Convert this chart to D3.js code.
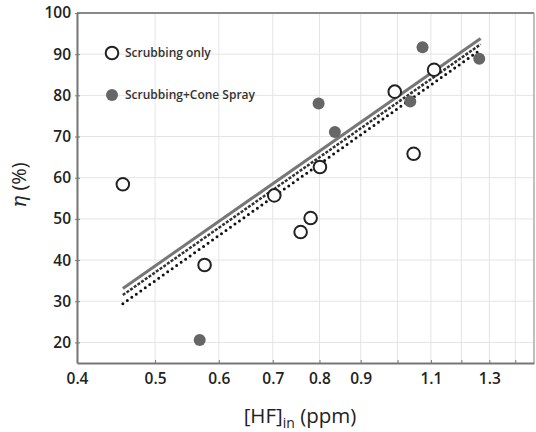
<!DOCTYPE html>
<html><head><meta charset="utf-8">
<script src="https://cdn.jsdelivr.net/npm/d3@7"></script>
<style>body{margin:0;background:#fff}svg{display:block}</style>
</head><body>
<svg id="c" width="536" height="432"></svg>
<script>
const xTicks = [0.4,0.5,0.6,0.7,0.8,0.9,1.0,1.1,1.2,1.3,1.4];
const xTickLabels = ["0.4","0.5","0.6","0.7","0.8","0.9","","1.1","","1.3",""];
const yTicks = [20,30,40,50,60,70,80,90,100];
const scrubX = [0.456,0.576,0.703,0.758,0.780,0.801,0.992,1.047,1.110];
const scrubY = [58.4,38.8,55.7,46.8,50.2,62.6,80.9,65.8,86.2];
const coneX = [0.568,0.798,0.836,1.037,1.074,1.263];
const coneY = [20.6,78.0,71.1,78.5,91.7,88.9];
const lineX = [0.456,1.268];
const fitSolid = [33.1,93.8];
const fitDashDot = [31.5,92.4];
const fitDotted = [29.4,91.1];
const legendLabels = ["Scrubbing only","Scrubbing+Cone Spray"];

const svg = d3.select("#c");
const L=77, R=534, T=13, B=363;
const x = d3.scaleLog().domain([0.4,1.477]).range([L,R]);
const y = d3.scaleLinear().domain([15,100]).range([B,T]);
const font = "'Open Sans', 'DejaVu Sans', sans-serif";

// grid
svg.append("g").selectAll("line").data(xTicks).join("line")
  .attr("x1",d=>x(d)).attr("x2",d=>x(d)).attr("y1",T).attr("y2",B)
  .attr("stroke","#e4e4e4").attr("stroke-width",1);
svg.append("g").selectAll("line").data(yTicks).join("line")
  .attr("x1",L).attr("x2",R).attr("y1",d=>y(d)).attr("y2",d=>y(d))
  .attr("stroke","#e4e4e4").attr("stroke-width",1);

// frame top/right
svg.append("line").attr("x1",L).attr("x2",R).attr("y1",T).attr("y2",T).attr("stroke","#888").attr("stroke-width",2);
svg.append("line").attr("x1",R).attr("x2",R).attr("y1",T).attr("y2",B).attr("stroke","#aaa").attr("stroke-width",1.5);

// axes
const xAxis = d3.axisBottom(x).tickValues(xTicks).tickFormat((d,i)=>xTickLabels[i]).tickSizeInner(-3).tickSizeOuter(0).tickPadding(10);
const gx = svg.append("g").attr("transform",`translate(0,${B})`).call(xAxis);
const yAxis = d3.axisLeft(y).tickValues(yTicks).tickFormat(d3.format("d")).tickSize(3).tickSizeOuter(0).tickPadding(3);
const gy = svg.append("g").attr("transform",`translate(${L},0)`).call(yAxis);
[gx,gy].forEach(g=>{
  g.select(".domain").attr("stroke","#777").attr("stroke-width",2);
  g.selectAll(".tick line").attr("stroke","#777");
  g.selectAll("text").attr("font-family",font).attr("font-size",15.5).attr("font-weight",600).attr("fill","#222");
});
gy.selectAll(".tick line").attr("x2",3).attr("x1",-2);

// fit lines
const lg = d3.line().x(d=>x(d[0])).y(d=>y(d[1]));
svg.append("path").attr("d",lg(lineX.map((v,i)=>[v,fitSolid[i]])))
  .attr("fill","none").attr("stroke","#777").attr("stroke-width",3);
svg.append("path").attr("d",lg(lineX.map((v,i)=>[v,fitDashDot[i]])))
  .attr("fill","none").attr("stroke","#333").attr("stroke-width",2.5).attr("stroke-dasharray","3,1.5");
svg.append("path").attr("d",lg(lineX.map((v,i)=>[v,fitDotted[i]])))
  .attr("fill","none").attr("stroke","#111").attr("stroke-width",3).attr("stroke-linecap","round").attr("stroke-dasharray","0,5.5");

// points
svg.append("g").selectAll("circle").data(coneX.map((v,i)=>[v,coneY[i]])).join("circle")
  .attr("cx",d=>x(d[0])).attr("cy",d=>y(d[1])).attr("r",6).attr("fill","#666");
svg.append("g").selectAll("circle").data(scrubX.map((v,i)=>[v,scrubY[i]])).join("circle")
  .attr("cx",d=>x(d[0])).attr("cy",d=>y(d[1])).attr("r",6.3).attr("fill","#fff").attr("stroke","#222").attr("stroke-width",2);

// legend
const lgd = svg.append("g");
lgd.append("circle").attr("cx",112).attr("cy",53).attr("r",6.3).attr("fill","#fff").attr("stroke","#222").attr("stroke-width",2);
lgd.append("circle").attr("cx",112).attr("cy",95).attr("r",6).attr("fill","#666");
lgd.selectAll("text").data(legendLabels).join("text")
  .attr("x",125).attr("y",(d,i)=>[57,99][i]).text(d=>d)
  .attr("font-family",font).attr("font-size",12).attr("font-weight",600).attr("fill","#333");

// axis labels
const yl = svg.append("text").attr("transform","translate(26,185) rotate(-90)").attr("text-anchor","middle")
  .attr("font-family",font).attr("font-size",20).attr("fill","#222");
yl.append("tspan").attr("font-style","italic").attr("font-family","'DejaVu Serif', serif").text("η");
yl.append("tspan").text(" (%)");
const xl = svg.append("text").attr("x",300).attr("y",423).attr("text-anchor","middle")
  .attr("font-family",font).attr("font-size",20.5).attr("fill","#222");
xl.append("tspan").text("[HF]");
xl.append("tspan").attr("font-size",14).attr("dy",5).text("in");
xl.append("tspan").attr("dy",-5).text(" (ppm)");
</script>
</body></html>
